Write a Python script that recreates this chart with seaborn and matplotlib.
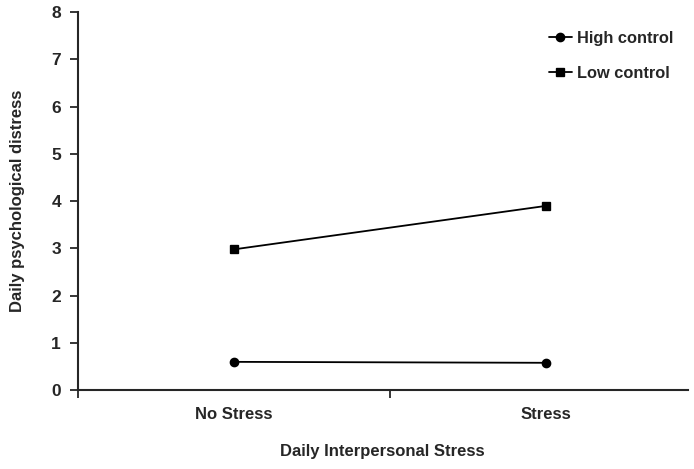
import pandas as pd
import seaborn as sns
from matplotlib import pyplot as plt
from matplotlib.ticker import FixedLocator

sns.set_theme(style="ticks")
plt.rcParams["font.family"] = ["Liberation Sans", "DejaVu Sans"]
plt.rcParams["font.weight"] = "bold"

stress = ["No Stress", "Stress"]
high_control = [0.60, 0.58]
low_control = [2.98, 3.90]

df = pd.DataFrame({
    "stress": stress * 2,
    "distress": high_control + low_control,
    "control": ["High control"] * 2 + ["Low control"] * 2,
})

fig = plt.figure(figsize=(6.94, 4.69), dpi=100)
ax = fig.add_axes([0.112, 0.168, 0.879, 0.806])

sns.pointplot(data=df, x="stress", y="distress", hue="control",
              order=stress, palette=["black", "black"], markers=["o", "s"],
              linestyles=["-", "-"], linewidth=1.3, markersize=6, ax=ax)

ax.set_ylim(0, 8)
ax.set_yticks(range(0, 9))
ax.set_xlim(-0.5, 1.455)
ax.xaxis.set_minor_locator(FixedLocator([-0.5, 0.5, 1.5]))
ax.tick_params(axis="x", which="major", length=0, pad=12, labelsize=12)
ax.tick_params(axis="x", which="minor", length=6, width=1.3, direction="out")
ax.tick_params(axis="y", length=6, width=1.3, direction="out", labelsize=12.5, pad=6)
for lab in ax.get_xticklabels() + ax.get_yticklabels():
    lab.set_fontweight("bold")

sns.despine(ax=ax, right=True, top=True)
ax.spines["left"].set_linewidth(1.5)
ax.spines["bottom"].set_linewidth(1.5)
ax.spines["left"].set_bounds(0, 8)

ax.set_xlabel("Daily Interpersonal Stress", fontsize=12, fontweight="bold", labelpad=16)
ax.set_ylabel("Daily psychological distress", fontsize=12, fontweight="bold", labelpad=19)

leg = ax.legend(loc="upper right", frameon=False, fontsize=11.8, handlelength=1.4,
                handletextpad=0.3, labelspacing=1.25, bbox_to_anchor=(1.0, 0.99))
for t in leg.get_texts():
    t.set_fontweight("bold")

fig.savefig("out.png", dpi=100)
